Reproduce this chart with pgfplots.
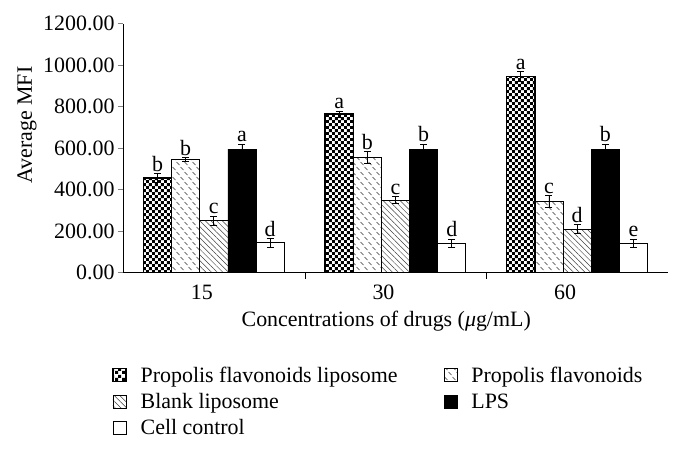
\documentclass[border=0pt]{standalone}
\usepackage{pgfplots}
\pgfplotsset{compat=1.18}
\usepackage{pgfplotstable}
\usetikzlibrary{patterns,patterns.meta}
\usepackage{fontspec}
\setmainfont{Liberation Serif}

\pgfdeclarepatternformonly{mychecker}{\pgfpointorigin}{\pgfqpoint{6.4bp}{6.4bp}}{\pgfqpoint{6.4bp}{6.4bp}}{%
  \pgfpathrectangle{\pgfpointorigin}{\pgfqpoint{3.2bp}{3.2bp}}%
  \pgfpathrectangle{\pgfqpoint{3.2bp}{3.2bp}}{\pgfqpoint{3.2bp}{3.2bp}}%
  \pgfusepath{fill}}
\pgfdeclarepatternformonly{mydash}{\pgfqpoint{-1bp}{-1bp}}{\pgfqpoint{9bp}{11bp}}{\pgfqpoint{8bp}{10bp}}{%
  \pgfsetlinewidth{0.6bp}%
  \pgfpathmoveto{\pgfqpoint{0.5bp}{9bp}}\pgfpathlineto{\pgfqpoint{3.5bp}{6bp}}%
  \pgfpathmoveto{\pgfqpoint{4.5bp}{4bp}}\pgfpathlineto{\pgfqpoint{7.5bp}{1bp}}%
  \pgfusepath{stroke}}

\pgfplotstableread{
x y err lab
0 455 21 b
1 763 16 a
2 945 24 a
}\pfl
\pgfplotstableread{
x y err lab
0 546 10 b
1 554 29 b
2 341 29 c
}\pf
\pgfplotstableread{
x y err lab
0 250 22 c
1 349 18 c
2 209 21 d
}\bl
\pgfplotstableread{
x y err lab
0 595 24 a
1 595 24 b
2 595 24 b
}\lps
\pgfplotstableread{
x y err lab
0 144 21 d
1 140 21 d
2 140 21 e
}\cc

\begin{document}
\begin{tikzpicture}[font=\fontsize{22}{26}\selectfont]
\begin{axis}[
  scale only axis, width=545bp, height=249bp,
  ybar=0pt, bar width=0.155,
  xmin=-0.5, xmax=2.5, ymin=0, ymax=1200,
  xtick={0,1,2}, xticklabels={15,30,60},
  xticklabel style={xshift=-12bp, yshift=-4bp},
  minor xtick={0.5,1.5},
  major x tick style={draw=none},
  minor x tick style={black},
  minor tick length=6bp, major tick length=5bp,
  tick align=outside,
  ytick={0,200,...,1200},
  yticklabel style={/pgf/number format/.cd, fixed, fixed zerofill, precision=2, 1000 sep={}, assume math mode=true},
  axis x line*=bottom, axis y line*=left,
  axis line style={black, line width=0.8bp},
  ylabel={Average MFI},
  ylabel style={at={(rel axis cs:-0.176,0.592)}, anchor=center},
  xlabel={Concentrations of drugs ({\itshape μ}g/mL)},
  xlabel style={at={(rel axis cs:0.483,-0.195)}, anchor=center},
  clip=false,
  point meta=explicit symbolic,
  nodes near coords,
  visualization depends on={\thisrow{err} \as \myerr},
  every node near coord/.append style={anchor=south, inner sep=1.5bp, shift={(axis direction cs:0,\myerr)}, black},
  error bars/y dir=both, error bars/y explicit,
  error bars/error bar style={black, line width=0.7bp},
  error bars/error mark options={rotate=90, mark size=3.5bp, black, line width=0.7bp},
  legend columns=2,
  legend cell align=left,
  legend style={at={(rel axis cs:-0.02,-0.37)}, anchor=north west, draw=none, fill=none, inner sep=0pt,
    /tikz/every odd column/.append style={column sep=12bp},
    /tikz/every even column/.append style={column sep=44bp},
    row sep=5.5bp},
  legend image code/.code={\draw[#1] (0bp,-6.5bp) rectangle (13bp,6.5bp);},
]
\addplot[draw=black, line width=1.4bp, pattern=mychecker, pattern color=black] table[x=x,y=y,y error=err,meta=lab]{\pfl};
\addlegendentry{Propolis flavonoids liposome}
\addplot[draw=black, line width=0.8bp, pattern=mydash, pattern color=black!80] table[x=x,y=y,y error=err,meta=lab]{\pf};
\addlegendentry{Propolis flavonoids}
\addplot[draw=black, line width=0.8bp, pattern={Lines[angle=-45, distance=4bp, line width=0.5bp]}, pattern color=black!75] table[x=x,y=y,y error=err,meta=lab]{\bl};
\addlegendentry{Blank liposome}
\addplot[draw=black, line width=0.8bp, fill=black] table[x=x,y=y,y error=err,meta=lab]{\lps};
\addlegendentry{LPS}
\addplot[draw=black, line width=0.8bp, fill=white] table[x=x,y=y,y error=err,meta=lab]{\cc};
\addlegendentry{Cell control}
\path (rel axis cs:-0.2257,1.0944) rectangle (rel axis cs:1.0294,-0.7169);
\end{axis}
\end{tikzpicture}
\end{document}
